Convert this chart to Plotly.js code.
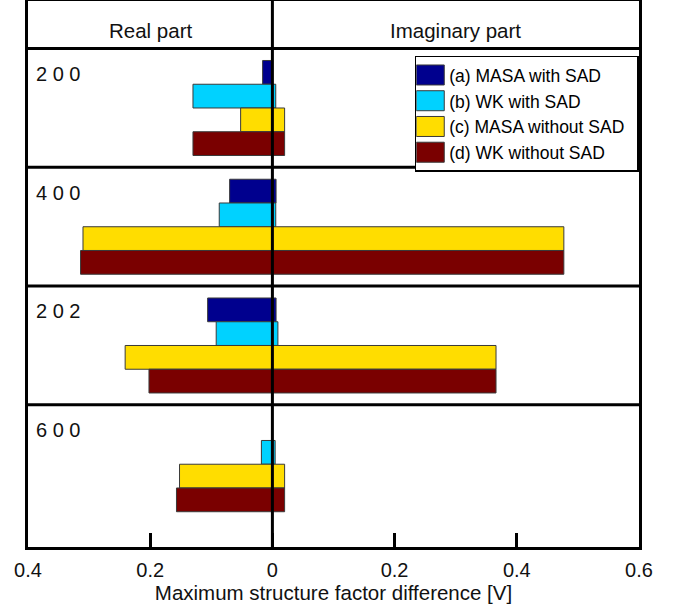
<!DOCTYPE html>
<html><head><meta charset="utf-8">
<script src="https://cdn.plot.ly/plotly-3.0.1.min.js"></script>
<style>html,body{margin:0;padding:0;background:#fff}#chart{width:679px;height:606px}</style>
</head><body><div id="chart"></div>
<script>
// Reflections (groups)
const groups = ['2 0 0', '4 0 0', '2 0 2', '6 0 0'];
// Series names
const seriesNames = ['(a) MASA with SAD', '(b) WK with SAD', '(c) MASA without SAD', '(d) WK without SAD'];
// Real part magnitudes (extend to the left of 0)
const realA = [0.016, 0.070, 0.106, 0.000];
const realB = [0.130, 0.087, 0.092, 0.018];
const realC = [0.052, 0.310, 0.241, 0.152];
const realD = [0.130, 0.314, 0.202, 0.157];
// Imaginary part magnitudes (extend to the right of 0)
const imagA = [0.000, 0.006, 0.006, 0.000];
const imagB = [0.0055, 0.0055, 0.009, 0.0045];
const imagC = [0.020, 0.477, 0.366, 0.020];
const imagD = [0.020, 0.477, 0.366, 0.020];
// Axis ticks
const tickVals = [-0.4, -0.2, 0, 0.2, 0.4, 0.6];
const tickText = ['0.4', '0.2', '0', '0.2', '0.4', '0.6'];
const colors = ['#00008e', '#00d2ff', '#ffdd00', '#7a0000'];

const reals = [realA, realB, realC, realD];
const imags = [imagA, imagB, imagC, imagD];
const FONT = 'Liberation Sans, Arial, sans-serif';

const traces = seriesNames.map((name, i) => ({
  type: 'bar', orientation: 'h', name: name,
  y: groups,
  base: reals[i].map(v => -v),
  x: reals[i].map((v, k) => v + imags[i][k]),
  marker: {color: colors[i], line: {color: '#3a3a3a', width: 1}},
  hoverinfo: 'skip'
}));

const shapes = [];
[-0.5, 0.5, 1.5, 2.5].forEach(b => shapes.push({
  type: 'line', xref: 'paper', x0: 0, x1: 1, yref: 'y', y0: b, y1: b,
  line: {color: '#000', width: 3}, layer: 'above'
}));
shapes.push({type: 'line', xref: 'x', x0: 0, x1: 0, yref: 'paper', y0: 0, y1: 1,
  line: {color: '#000', width: 3}, layer: 'above'});

const annotations = [
  {text: 'Real part', x: -0.2, xref: 'x', y: -0.5, yref: 'y', yshift: 18, showarrow: false,
   xanchor: 'center', yanchor: 'middle', font: {family: FONT, size: 20.5, color: '#111'}},
  {text: 'Imaginary part', x: 0.3, xref: 'x', y: -0.5, yref: 'y', yshift: 18, showarrow: false,
   xanchor: 'center', yanchor: 'middle', font: {family: FONT, size: 20.5, color: '#111'}}
];
groups.forEach(g => annotations.push({
  text: g, x: 0, xref: 'paper', xshift: 6, y: g, yref: 'y', yshift: 34, showarrow: false,
  xanchor: 'left', yanchor: 'middle', font: {family: FONT, size: 20, color: '#111'}
}));

const layout = {
  width: 679, height: 606,
  margin: {l: 28, r: 40, t: 1, b: 59, pad: 0},
  paper_bgcolor: '#fff', plot_bgcolor: '#fff',
  barmode: 'group', bargap: 0.2, bargroupgap: 0,
  showlegend: true,
  legend: {x: 0.633, y: 0.9, xanchor: 'left', yanchor: 'top', traceorder: 'normal',
    bgcolor: '#fff', bordercolor: '#000', borderwidth: 1.5,
    font: {family: FONT, size: 17.5, color: '#000'}},
  xaxis: {range: [-0.4, 0.6], tickvals: tickVals, ticktext: tickText,
    ticks: 'inside', ticklen: 14, tickwidth: 3, tickcolor: '#000',
    showline: true, mirror: true, linewidth: 3, linecolor: '#000',
    showgrid: false, zeroline: false, ticklabelstandoff: 3,
    tickfont: {family: FONT, size: 20, color: '#111'},
    title: {text: 'Maximum structure factor difference [V]', standoff: 1,
      font: {family: FONT, size: 20.5, color: '#111'}}},
  yaxis: {type: 'category', categoryorder: 'array', categoryarray: groups,
    range: [3.697, -0.901], showticklabels: false, ticks: '',
    showline: true, mirror: true, linewidth: 3, linecolor: '#000',
    showgrid: false, zeroline: false},
  shapes: shapes, annotations: annotations
};

Plotly.newPlot('chart', traces, layout, {staticPlot: true, displayModeBar: false}).then(gd => {
  document.querySelectorAll('g.legendpoints path').forEach(p => {
    p.setAttribute('d', 'M-20,-10H8V10H-20Z');
  });
  document.querySelectorAll('.legend text.legendtext').forEach(t => {
    t.setAttribute('x', '33');
  });
});
</script></body></html>
